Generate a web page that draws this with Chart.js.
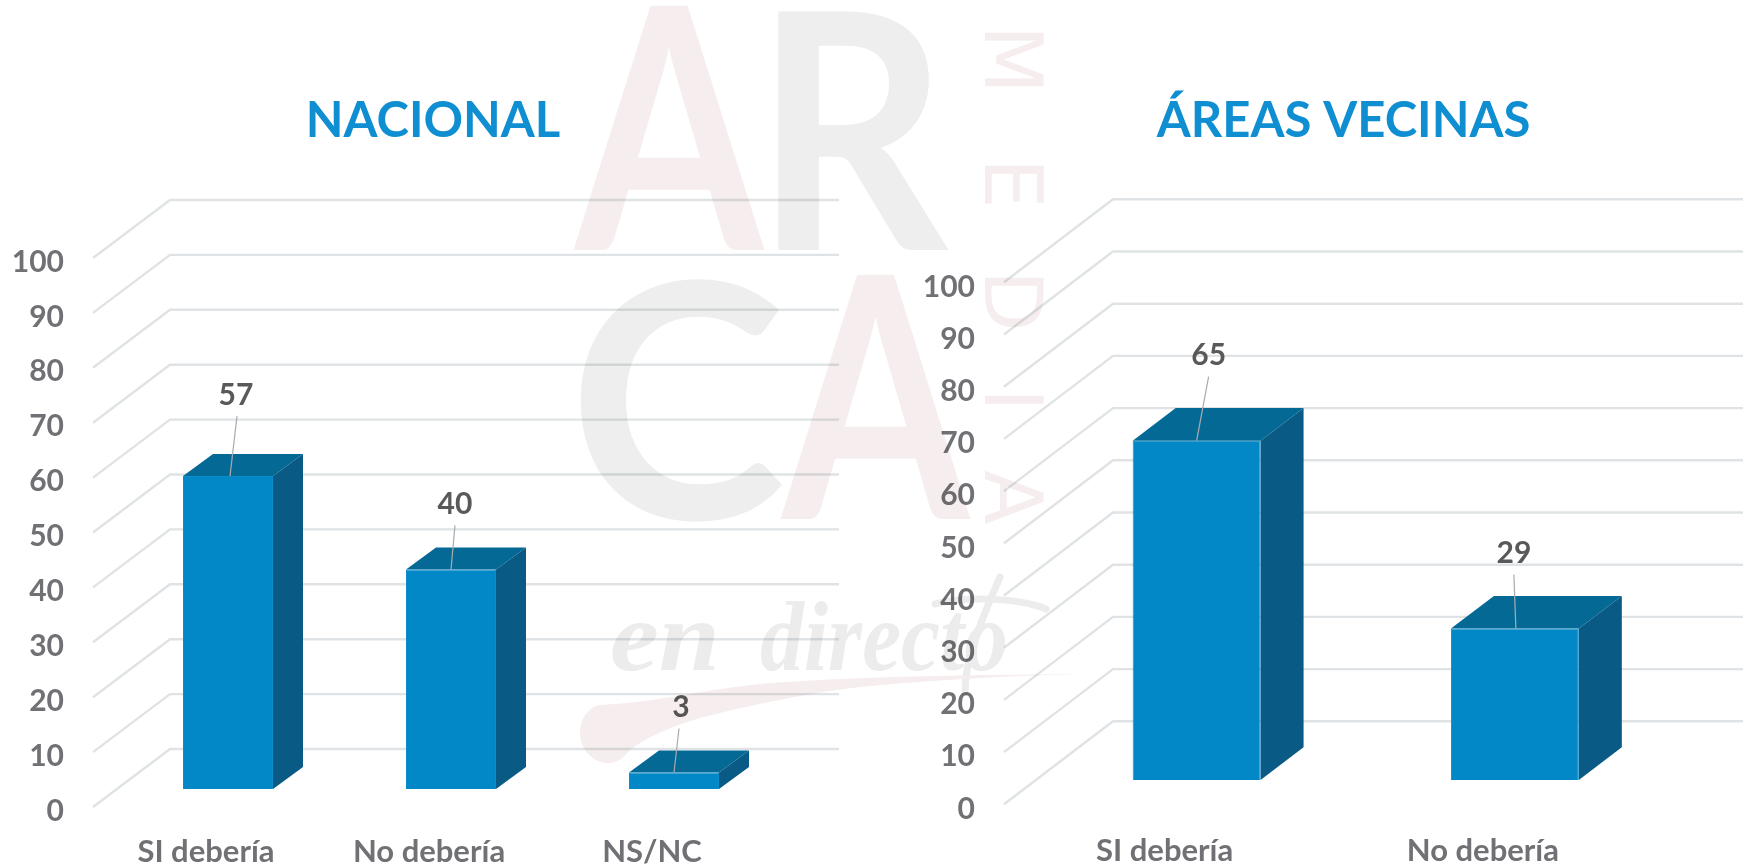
<!DOCTYPE html>
<html lang="es">
<head>
<meta charset="utf-8">
<title>NACIONAL / ÁREAS VECINAS</title>
<script src="https://cdn.jsdelivr.net/npm/chart.js@4"></script>
<style>
html,body{margin:0;padding:0;background:#fff;width:1754px;height:868px;overflow:hidden}
#stage{position:relative;width:1754px;height:868px;overflow:hidden;background:#fff}
canvas{position:absolute;top:0;display:block}
#mark{position:absolute;left:0;top:0;mix-blend-mode:multiply;pointer-events:none}
</style>
</head>
<body>
<div id="stage">
<canvas id="left" style="left:0"></canvas>
<canvas id="right" style="left:900px"></canvas>
<svg id="mark" width="1754" height="868" viewBox="0 0 1754 868" aria-hidden="true">
  <g font-family="Lato" font-weight="700">
    <text x="575" y="250" font-size="338" fill="#f6eeee" textLength="188" lengthAdjust="spacingAndGlyphs">A</text>
    <text x="754" y="250" font-size="330" fill="#eeeeee" textLength="194" lengthAdjust="spacingAndGlyphs">R</text>
    <text x="568" y="519" font-size="328" fill="#eeeeee" textLength="218" lengthAdjust="spacingAndGlyphs">C</text>
    <text x="782" y="519" font-size="338" fill="#f6eeee" textLength="187" lengthAdjust="spacingAndGlyphs">A</text>
  </g>
  <text transform="translate(985,0) rotate(90)" font-family="DejaVu Sans" font-size="80" fill="#f6eeee"><tspan x="25">M</tspan><tspan x="158">E</tspan><tspan x="270">D</tspan><tspan x="388">I</tspan><tspan x="470">A</tspan></text>
  <g font-family="Liberation Serif" font-style="italic" font-weight="700" font-size="100" fill="#ececec">
    <text x="610" y="670" textLength="110" lengthAdjust="spacingAndGlyphs">en</text>
    <text x="760" y="670" textLength="248" lengthAdjust="spacingAndGlyphs">directo</text>
  </g>
  <path d="M1000 577 C 978 628 965 660 965 692 M935 604 C 970 596 1020 598 1046 609" fill="none" stroke="#ececec" stroke-width="7" stroke-linecap="round"/>
  <path d="M600 705 C 660 702 700 690 760 684 C 830 678 930 675 1080 674 C 1000 676 930 680 860 687 C 800 694 740 708 700 718 C 670 727 645 738 630 750 C 622 760 615 764 605 763 C 588 760 580 745 580 733 C 580 718 590 706 600 705 Z" fill="#f6eeee"/>
</svg>
</div>
<script>
const nacionalCategories = ['SI debería', 'No debería', 'NS/NC'];
const nacionalValues = [57, 40, 3];
const vecinasCategories = ['SI debería', 'No debería'];
const vecinasValues = [65, 29];
const yMin = 0;
const yMax = 100;
const yStep = 10;

const BLUE_FRONT = '#0287c7', BLUE_EDGE = '#0c8cca', BLUE_TOP = '#056996', BLUE_SIDE = '#095a84';
const GRID = '#dfe3e5', AXIS_TEXT = '#707174', LABEL_TEXT = '#595959';
const FONT = 'Lato';

const depth3d = {
  id: 'depth3d',
  beforeDatasetsDraw(chart, _a, o) {
    const {ctx} = chart, y = chart.scales.y;
    ctx.save();
    ctx.lineCap = 'butt';
    ctx.lineJoin = 'round';
    y.ticks.forEach((_t, i) => {
      const p = y.getPixelForTick(i);
      ctx.beginPath();
      ctx.moveTo(o.wallX, p + o.drop);
      ctx.lineTo(o.wallX + o.wallDx, p + o.drop - o.wallDy);
      ctx.lineTo(o.endX, p + o.drop - o.wallDy);
      ctx.strokeStyle = GRID;
      ctx.lineWidth = 2.4;
      ctx.stroke();
    });
    const base = y.getPixelForValue(yMin);
    chart.getDatasetMeta(0).data.forEach(b => {
      const l = b.x - b.width / 2, r = b.x + b.width / 2, t = b.y;
      ctx.fillStyle = BLUE_TOP;
      ctx.beginPath();
      ctx.moveTo(l, t); ctx.lineTo(l + o.barDx, t - o.barDy);
      ctx.lineTo(r + o.barDx, t - o.barDy); ctx.lineTo(r, t); ctx.closePath(); ctx.fill();
      ctx.fillStyle = BLUE_SIDE;
      ctx.beginPath();
      ctx.moveTo(r, t); ctx.lineTo(r + o.barDx, t - o.barDy);
      ctx.lineTo(r + o.barDx, base - o.barDy); ctx.lineTo(r, base); ctx.closePath(); ctx.fill();
    });
    ctx.restore();
  },
  afterDatasetsDraw(chart, _a, o) {
    const {ctx} = chart, ds = chart.data.datasets[0];
    ctx.save();
    ctx.textAlign = 'center';
    ctx.textBaseline = 'middle';
    chart.getDatasetMeta(0).data.forEach((b, i) => {
      const off = o.labelOffsets[i];
      const tx = b.x + off[0], ty = b.y + off[1];
      ctx.strokeStyle = '#a9abad';
      ctx.lineWidth = 1.2;
      ctx.beginPath();
      ctx.moveTo(tx + off[2], ty + 21);
      ctx.lineTo(b.x + off[3], b.y);
      ctx.stroke();
      ctx.fillStyle = LABEL_TEXT;
      ctx.font = '700 30px ' + FONT;
      ctx.fillText(String(ds.data[i]), tx, ty);
    });
    ctx.restore();
  }
};

function build(id, w, categories, values, title, g) {
  const cv = document.getElementById(id);
  cv.width = w; cv.height = 868;
  cv.style.width = w + 'px'; cv.style.height = '868px';
  return new Chart(cv, {
    type: 'bar',
    data: {
      labels: categories,
      datasets: [{
        data: values,
        backgroundColor: BLUE_FRONT,
        borderColor: BLUE_EDGE,
        borderWidth: 1,
        barPercentage: g.barPct,
        categoryPercentage: 1
      }]
    },
    options: {
      responsive: false,
      animation: false,
      devicePixelRatio: 1,
      layout: {padding: 0},
      plugins: {
        legend: {display: false},
        tooltip: {enabled: false},
        title: {
          display: true,
          text: title,
          color: '#0f8ed2',
          font: {family: FONT, size: 49, weight: '700', lineHeight: 1.2},
          padding: {top: g.titleTop, bottom: g.plotTop - g.titleTop - 58.8}
        },
        depth3d: g.depth
      },
      scales: {
        x: {
          type: 'category',
          grid: {display: false, drawTicks: false},
          border: {display: false},
          ticks: {
            color: AXIS_TEXT, font: {family: FONT, size: 31, weight: '700'},
            padding: g.xPad, labelOffset: g.xLabelOffset, maxRotation: 0, autoSkip: false
          },
          afterFit(s) { s.height = g.xHeight; }
        },
        y: {
          min: yMin, max: yMax,
          grid: {display: false, drawTicks: false},
          border: {display: false},
          ticks: {
            stepSize: yStep,
            color: AXIS_TEXT, font: {family: FONT, size: 30, weight: '700'},
            padding: g.yPad, labelOffset: g.yLabelOffset
          },
          afterFit(s) { s.width = g.yWidth; }
        },
        y2: {
          position: 'right',
          grid: {display: false, drawTicks: false},
          border: {display: false},
          ticks: {display: false},
          afterFit(s) { s.width = g.rightGap; }
        }
      }
    },
    plugins: [depth3d]
  });
}

build('left', 866, nacionalCategories, nacionalValues, 'NACIONAL', {
  barPct: 90 / 223, titleTop: 92.2, plotTop: 240, xHeight: 79, xPad: 44, xLabelOffset: -22,
  yWidth: 116.5, yPad: 52.5, yLabelOffset: 22, rightGap: 80.5,
  depth: {wallX: 93, wallDx: 77, wallDy: 58, drop: 18, endX: 839, barDx: 30, barDy: 22,
    labelOffsets: [[8, -81, 1, 2], [4, -65, 0, 0], [7, -65, -2, 0]]}
});

build('right', 887, vecinasCategories, vecinasValues, 'ÁREAS VECINAS', {
  barPct: 128 / 318.5, titleTop: 92.2, plotTop: 258, xHeight: 88, xPad: 52, xLabelOffset: -32,
  yWidth: 137.5, yPad: 62.5, yLabelOffset: 29, rightGap: 113,
  depth: {wallX: 104, wallDx: 109, wallDy: 83, drop: 24.3, endX: 843, barDx: 43, barDy: 32.7,
    labelOffsets: [[12, -85, 0, 0], [-1, -75, 0, 1]]}
});
</script>
</body>
</html>
